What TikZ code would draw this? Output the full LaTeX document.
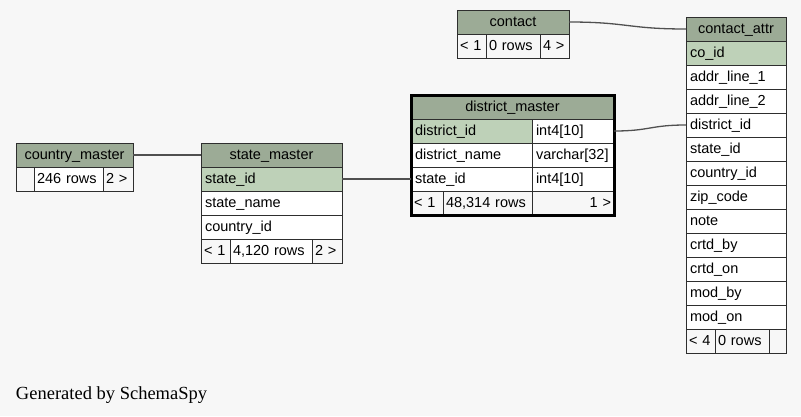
\documentclass[tikz,border=0pt]{standalone}
\usepackage{fontspec}
\setmainfont{Liberation Serif}
\setsansfont{Liberation Sans}
\usetikzlibrary{positioning}
\definecolor{PageGray}{HTML}{F7F7F7}
\definecolor{HeadGreen}{HTML}{9CAB96}
\definecolor{KeyGreen}{HTML}{BED1B8}
\definecolor{EdgeGray}{HTML}{2E2E2E}
\definecolor{LinkGray}{HTML}{505050}

\begin{document}
\begin{tikzpicture}[
      x=1pt, y=-1pt,
      every node/.style={font=\sffamily\fontsize{14.5}{16}\selectfont, outer sep=0pt},
      cell/.style={draw=EdgeGray, fill=white, anchor=north west, minimum height=24pt, inner xsep=4pt, inner ysep=0pt, text height=11.5pt, text depth=2pt, align=left},
      head/.style={cell, fill=HeadGreen, align=center},
      key/.style={cell, fill=KeyGreen},
      foot/.style={cell, fill=PageGray, inner xsep=3pt},
      link/.style={draw=LinkGray, line width=1.3pt}
    ]
      \fill[PageGray] (0,0) rectangle (801,416);

      % country_master
      \node[head, text width=109pt] (country) at (16,143) {country\_master};
      \node[foot, text width=12pt] (countryrows1) at (16,167) {};
      \node[foot, text width=63pt, fill=white] (countryrows2) at (34,167) {246~rows};
      \node[foot, text width=24pt] (countryrows3) at (103,167) {2~>};

      % state_master
      \node[head, text width=133pt] (state) at (201,143) {state\_master};
      \node[key, text width=133pt] (stateid) at (201,167) {state\_id};
      \node[cell, text width=133pt] (statename) at (201,191) {state\_name};
      \node[cell, text width=133pt] (statecountry) at (201,215) {country\_id};
      \node[foot, text width=23pt] (staterows1) at (201,239) {<~1};
      \node[foot, text width=76pt, fill=white] (staterows2) at (230,239) {4,120~rows};
      \node[foot, text width=24pt] (staterows3) at (312,239) {2~>};

      % district_master
      \node[head, text width=195pt] (district) at (411,95) {district\_master};
      \node[key, text width=113pt] (districtid) at (411,119) {district\_id};
      \node[cell, text width=74pt] (districtidtype) at (532,119) {int4[10]};
      \node[cell, text width=113pt] (districtname) at (411,143) {district\_name};
      \node[cell, text width=74pt] (districtnametype) at (532,143) {varchar[32]};
      \node[cell, text width=113pt] (districtstate) at (411,167) {state\_id};
      \node[cell, text width=74pt] (districtstatetype) at (532,167) {int4[10]};
      \node[foot, text width=26pt] (districtrows1) at (411,191) {<~1};
      \node[foot, text width=83pt] (districtrows2) at (443,191) {48,314~rows};
      \node[foot, text width=76pt, align=right] (districtrows3) at (532,191) {1~>};
      \draw[line width=3pt] (district.north west) rectangle (districtrows3.south east);

      % contact
      \node[head, text width=104pt] (contact) at (457,10) {contact};
      \node[foot, text width=23pt] (contactrows1) at (457,34) {<~1};
      \node[foot, text width=48pt] (contactrows2) at (486,34) {0~rows};
      \node[foot, text width=23pt] (contactrows3) at (540,34) {4~>};

      % contact_attr
      \node[head, text width=92pt] (attr) at (686,17) {contact\_attr};
      \node[key, text width=92pt] (attrco) at (686,41) {co\_id};
      \foreach \col [count=\i] in {addr\_line\_1, addr\_line\_2, district\_id, state\_id, country\_id, zip\_code, note, crtd\_by, crtd\_on, mod\_by, mod\_on}
        \node[cell, text width=92pt] (attr\i) at (686,41+24*\i) {\col};
      \node[foot, text width=23pt] (attrrows1) at (686,329) {<~4};
      \node[foot, text width=48pt] (attrrows2) at (715,329) {0~rows};
      \node[foot, text width=11pt] (attrrows3) at (769,329) {};

      % Relationships
      \draw[link] (country.east) -- (state.west);
      \draw[link] (stateid.east) -- (districtstate.west);
      \draw[link] (districtidtype.east) .. controls +(36,0) and +(-36,0) .. (attr3.west);
      \draw[link] (contact.east) .. controls +(58,0) and +(-58,0) .. (attr.west);

      \node[font=\rmfamily\fontsize{18.5}{20}\selectfont, anchor=base west, inner sep=0pt] (credit) at (16,399) {Generated by SchemaSpy};

    \end{tikzpicture}
\end{document}
